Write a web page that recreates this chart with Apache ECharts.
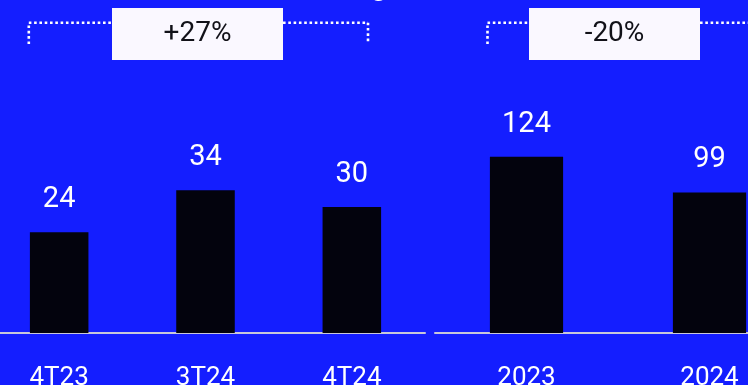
<!DOCTYPE html>
<html>
<head>
<meta charset="utf-8">
<script src="https://cdn.jsdelivr.net/npm/echarts@6/dist/echarts.min.js"></script>
<style>
  html, body { margin: 0; padding: 0; background: #141eff; overflow: hidden; width: 748px; height: 385px; }
  /* canvas runs a little past both edges so the outer bars can be clipped */
  #chart { position: absolute; left: -20px; top: 0; width: 840px; height: 385px; }
</style>
</head>
<body>
<div id="chart"></div>
<script>
// Quarterly figures
const quarterCategories = ['4T23', '3T24', '4T24'];
const quarterValues = [24, 34, 30];

// Annual figures
const yearCategories = ['2023', '2024'];
const yearValues = [124, 99];

// Change badges shown above each group
const changeLabels = ['+27%', '-20%'];

const BG = '#141eff';
const BAR = '#03030d';
const AXIS = '#c8c8da';
const FONT = 'Roboto';
const SHIFT = 20; // canvas starts 20px left of the page edge

const chart = echarts.init(document.getElementById('chart'), null, { renderer: 'canvas' });

function xAxisFor(gridIndex, data) {
  return {
    type: 'category',
    gridIndex: gridIndex,
    data: data,
    axisLine: { show: true, lineStyle: { color: AXIS, width: 2 } },
    axisTick: { show: false },
    axisLabel: { color: '#ffffff', fontFamily: FONT, fontSize: 26, margin: 32 }
  };
}

function yAxisFor(gridIndex, max) {
  return {
    type: 'value',
    gridIndex: gridIndex,
    min: 0,
    max: max,
    show: false,
    splitLine: { show: false }
  };
}

function barSeries(index, values) {
  return {
    type: 'bar',
    xAxisIndex: index,
    yAxisIndex: index,
    data: values,
    barWidth: '40%',
    itemStyle: { color: BAR },
    label: {
      show: true,
      position: 'top',
      distance: 18,
      color: '#ffffff',
      fontFamily: FONT,
      fontSize: 29
    }
  };
}

// Dotted bracket with a white badge in the middle (page coordinates)
function bracket(x1, x2, boxX1, boxX2, text) {
  const y = 22.7;
  const drop = 44;
  const dotted = { stroke: '#ffffff', lineWidth: 2.6, lineDash: [2.6, 2.7] };
  const sx = v => v + SHIFT;
  const items = [
    { type: 'line', shape: { x1: sx(x1), y1: drop, x2: sx(x1), y2: y }, style: dotted },
    { type: 'line', shape: { x1: sx(x1), y1: y, x2: sx(boxX1), y2: y }, style: dotted },
    { type: 'line', shape: { x1: sx(boxX2), y1: y, x2: sx(x2), y2: y }, style: dotted }
  ];
  if (x2 < 748) {
    items.push({ type: 'line', shape: { x1: sx(x2), y1: y, x2: sx(x2), y2: drop }, style: dotted });
  }
  items.push({
    type: 'rect',
    shape: { x: sx(boxX1), y: 8, width: boxX2 - boxX1, height: 52 },
    style: { fill: '#faf8ff' }
  });
  items.push({
    type: 'text',
    x: sx((boxX1 + boxX2) / 2),
    y: 34,
    style: {
      text: text,
      fill: '#111118',
      font: '28px ' + FONT,
      align: 'center',
      verticalAlign: 'middle'
    }
  });
  return items;
}

chart.setOption({
  backgroundColor: BG,
  animation: false,
  grid: [
    { left: SHIFT - 14, width: 439, top: 83, height: 250, containLabel: false, outerBoundsMode: 'none' },
    { left: SHIFT + 435, width: 366, top: 83, height: 250, containLabel: false, outerBoundsMode: 'none' }
  ],
  xAxis: [xAxisFor(0, quarterCategories), xAxisFor(1, yearCategories)],
  yAxis: [yAxisFor(0, 59.5), yAxisFor(1, 176)],
  series: [barSeries(0, quarterValues), barSeries(1, yearValues)],
  graphic: [
    // tail of the heading above the chart
    {
      type: 'text',
      x: SHIFT + 379,
      y: 2,
      style: {
        text: 'g',
        fill: '#ffffff',
        font: '30px ' + FONT,
        align: 'center',
        verticalAlign: 'bottom'
      }
    }
  ]
    .concat(bracket(28.8, 368, 112, 283, changeLabels[0]))
    .concat(bracket(487.5, 760, 529, 700, changeLabels[1]))
});
</script>
</body>
</html>
